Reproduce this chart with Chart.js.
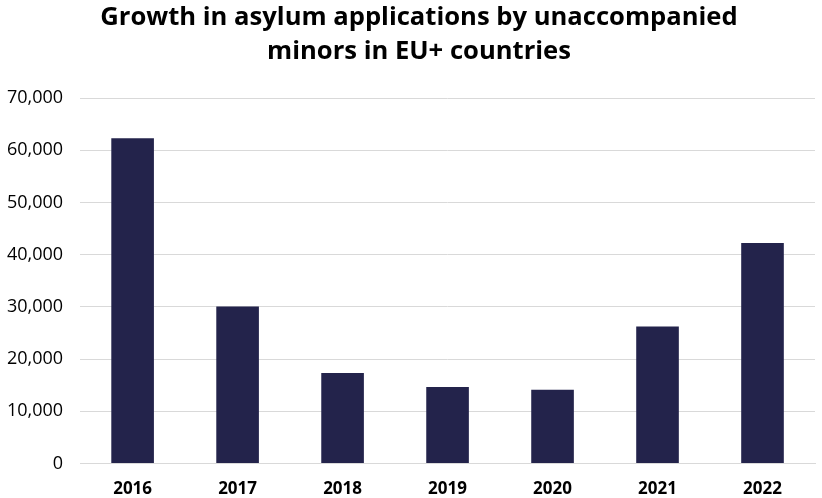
<!DOCTYPE html>
<html>
<head>
<meta charset="utf-8">
<script src="https://cdn.jsdelivr.net/npm/chart.js@4"></script>
<style>
  html, body { margin: 0; padding: 0; background: #fff; }
  #wrap { width: 822px; height: 498px; }
</style>
</head>
<body>
<div id="wrap"><canvas id="chart"></canvas></div>
<script>
const years = ['2016', '2017', '2018', '2019', '2020', '2021', '2022'];
const applications = [62300, 30100, 17350, 14650, 14150, 26250, 42250];
const titleLines = ['Growth in asylum applications by unaccompanied', 'minors in EU+ countries'];

// title is drawn by hand so it can sit a little right of the canvas centre, as in the original
const titleDraw = {
    id: 'titleDraw',
    afterDraw(chart) {
        const ctx = chart.ctx;
        ctx.save();
        ctx.fillStyle = '#000';
        ctx.font = 'bold 25.6px "Open Sans"';
        ctx.textAlign = 'center';
        ctx.textBaseline = 'middle';
        ctx.fillText(titleLines[0], 419, 18);
        ctx.fillText(titleLines[1], 419, 52);
        ctx.restore();
    }
};

new Chart(document.getElementById('chart'), {
    type: 'bar',
    data: {
        labels: years,
        datasets: [{
            data: applications,
            backgroundColor: '#23234b',
            categoryPercentage: 1,
            barPercentage: 0.406
        }]
    },
    options: {
        responsive: true,
        maintainAspectRatio: false,
        animation: false,
        layout: { padding: { left: -10, right: 7, top: 98, bottom: -16 } },
        plugins: {
            legend: { display: false },
            tooltip: { enabled: false },
            title: { display: false }
        },
        scales: {
            x: {
                grid: { display: false, drawTicks: false },
                border: { color: '#d9d9d9', width: 1 },
                ticks: {
                    color: '#000',
                    padding: 15,
                    font: { family: 'Open Sans', size: 17, weight: 'bold' }
                }
            },
            y: {
                min: 0,
                max: 70000,
                grid: { color: '#d9d9d9', drawTicks: false },
                border: { display: false },
                ticks: {
                    stepSize: 10000,
                    color: '#000',
                    padding: 17,
                    font: { family: 'Open Sans', size: 18 },
                    callback: v => v.toLocaleString('en-US')
                }
            }
        }
    },
    plugins: [titleDraw]
});
</script>
</body>
</html>
